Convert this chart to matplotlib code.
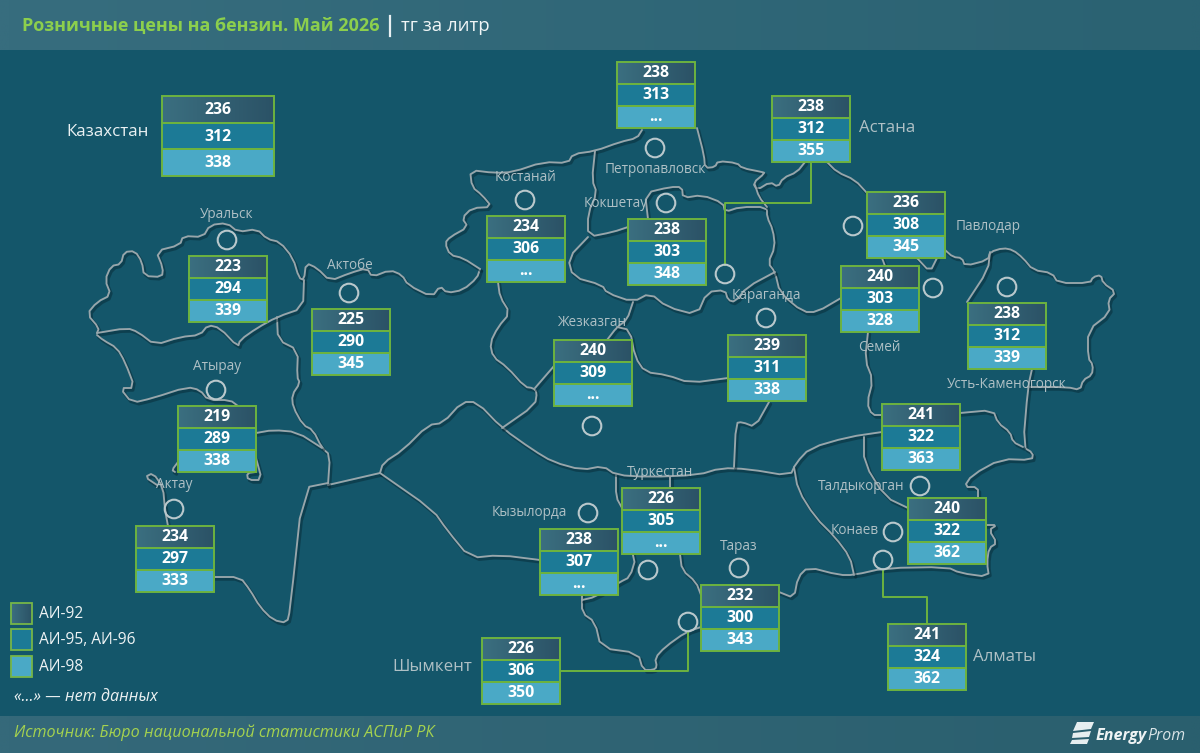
import numpy as np
import matplotlib
matplotlib.use("Agg")
import matplotlib.pyplot as plt
from matplotlib.patches import Rectangle, Circle, Polygon
import matplotlib.patheffects as pe

plt.rcParams['font.family'] = ['Open Sans', 'DejaVu Sans']

# ---------- data ----------
regions = ["Казахстан", "Уральск", "Актобе", "Атырау", "Актау", "Костанай", "Петропавловск",
           "Кокшетау", "Астана", "Павлодар", "Семей", "Усть-Каменогорск", "Караганда",
           "Жезказган", "Талдыкорган", "Конаев", "Туркестан", "Кызылорда", "Тараз",
           "Шымкент", "Алматы"]
ai92 = [236, 223, 225, 219, 234, 234, 238, 238, 238, 236, 240, 238, 239, 240, 241, 240, 226, 238, 232, 226, 241]
ai95 = [312, 294, 290, 289, 297, 306, 313, 303, 312, 308, 303, 312, 311, 309, 322, 322, 305, 307, 300, 306, 324]
ai98 = [338, 339, 345, 338, 333, None, None, 348, 355, 345, 328, 339, 338, None, 363, 362, None, None, 343, 350, 362]
legend_labels = ["АИ-92", "АИ-95, АИ-96", "АИ-98"]

# ---------- layout (pixels) ----------
box_xy = [(162, 96), (189, 256), (312, 309), (178, 406), (136, 526), (487, 216), (617, 62),
          (628, 219), (772, 96), (867, 192), (841, 266), (968, 303), (728, 335),
          (554, 340), (882, 404), (908, 498), (622, 488), (540, 529), (701, 585),
          (482, 638), (888, 624)]
label_xy = [(108, 132), (227, 214), (350, 265), (217, 366), (174, 484), (525, 177), (655, 169),
            (616, 203), (887, 128), (988, 226), (879, 347), (1007, 384), (766, 295),
            (592, 322), (861, 486), (855, 531), (660, 472), (529, 512), (739, 546),
            (432, 667), (1005, 657)]
circle_xy = [None, (227, 240), (349, 293), (216, 390), (174, 509), (525, 200), (655, 148),
             (666, 203), (725, 274), (853, 226), (933, 288), (1007, 287), (766, 318),
             (592, 426), (920, 486), (893, 532), (648, 570), (588, 513), (739, 568),
             (688, 622), (883, 560)]
large_labels = {"Астана", "Шымкент", "Алматы"}

connectors = [
    [(811, 162), (811, 203), (725, 203), (725, 265)],
    [(883, 570), (883, 597), (927, 597), (927, 624)],
    [(560, 671), (688, 671), (688, 632)],
]

# region borders
borders = [
    # north-west and north outer edge
    [(97, 333), (99, 328), (87, 314), (97, 302), (111, 295), (105, 280), (111, 266), (121, 264), (124, 252),
     (135, 251), (142, 262), (144, 276), (162, 277), (163, 268), (156, 251), (180, 245), (183, 236), (203, 237),
     (210, 225), (227, 223), (238, 232), (257, 229), (267, 239), (280, 242), (293, 258), (299, 278), (304, 280),
     (306, 263), (317, 268), (330, 281), (350, 273), (367, 268), (372, 277), (390, 270), (402, 275), (408, 285),
     (432, 297), (440, 286), (447, 293), (463, 290), (477, 278), (480, 269)],
    # Kostanay, north
    [(480, 269), (463, 258), (450, 255), (445, 243), (450, 237), (468, 227), (462, 218), (472, 208), (492, 207),
     (482, 195), (472, 187), (470, 170), (495, 173), (513, 172), (543, 162), (568, 163), (573, 154), (595, 151),
     (620, 142), (637, 138), (642, 130)],
    [(697, 128), (704, 155), (705, 168), (715, 167), (718, 161), (737, 163), (742, 168), (762, 172), (765, 173),
     (753, 183), (757, 190), (770, 182), (778, 187), (783, 178), (797, 172), (805, 162)],
    # north-east to east outer edge
    [(827, 162), (837, 172), (855, 180), (867, 193)],
    [(945, 250), (953, 257), (962, 258), (965, 266), (988, 260), (990, 252), (1003, 248), (1013, 250), (1023, 258),
     (1033, 270), (1052, 273), (1058, 283), (1090, 283), (1093, 277), (1101, 275), (1103, 283), (1116, 292),
     (1108, 300), (1110, 313), (1088, 330), (1088, 358), (1093, 365), (1092, 375), (1083, 380), (1080, 390),
     (1067, 387), (1028, 387)],
    [(1032, 369), (1028, 387), (1023, 447), (1033, 453), (1032, 460), (1001, 459), (972, 475), (964, 487),
     (978, 487), (978, 498)],
    [(986, 525), (997, 525), (989, 530), (997, 543), (989, 548), (987, 563), (989, 577), (960, 573), (947, 567),
     (885, 568), (854, 575), (839, 575), (808, 567), (798, 577), (794, 598), (779, 592)],
    [(960, 413), (993, 410), (998, 423), (1010, 432), (1013, 442), (1023, 447)],
    # south
    [(680, 554), (682, 570), (696, 582), (701, 595)],
    [(701, 627), (686, 632), (665, 647), (655, 658), (657, 667), (653, 670), (643, 670), (638, 653), (601, 648),
     (595, 622), (582, 613), (582, 595)],
    [(582, 600), (595, 597), (620, 582), (630, 577), (636, 557), (622, 540)],
    [(616, 475), (616, 497), (622, 508)],
    # central horizontal band
    [(380, 473), (383, 463), (403, 450), (428, 425), (443, 423), (462, 402), (477, 402), (502, 428), (533, 450),
     (553, 462), (582, 470), (603, 466), (616, 475), (649, 477), (698, 475), (721, 468), (748, 469), (790, 476),
     (796, 463), (810, 448), (848, 437), (882, 432)],
    [(502, 428), (535, 405), (537, 392), (533, 388), (525, 387), (507, 367), (493, 357), (490, 343), (498, 327),
     (510, 313), (500, 297), (498, 282)],
    [(535, 388), (554, 366)],
    [(734, 467), (736, 423), (742, 422), (755, 427), (769, 402)],
    # Aktobe west, south-west
    [(277, 317), (278, 340), (298, 350), (297, 377), (300, 383), (292, 395), (293, 407), (303, 425), (313, 430),
     (322, 448), (330, 455), (328, 485)],
    [(328, 485), (380, 473)],
    [(380, 473), (433, 510), (447, 530), (470, 558), (500, 555), (540, 560)],
    # Uralsk / Atyrau
    [(97, 333), (127, 328), (138, 332), (155, 345), (180, 337), (200, 335), (208, 325), (220, 328), (238, 347),
     (240, 340), (257, 328), (277, 317), (303, 308), (304, 280)],
    # Caspian
    [(97, 335), (103, 340), (117, 348), (125, 362), (135, 388), (120, 388), (132, 403), (153, 398), (187, 387),
     (200, 390), (208, 400), (230, 400), (238, 406)],
    [(256, 433), (273, 430), (297, 432), (322, 448)],
    [(178, 462), (172, 470), (175, 472)],
    [(256, 458), (262, 480), (248, 480), (247, 473), (256, 472)],
    [(157, 485), (145, 477), (153, 473), (163, 487), (165, 510), (168, 526)],
    [(214, 577), (240, 577), (250, 590), (260, 607), (273, 620), (287, 623), (290, 610), (303, 488), (328, 483)],
    # Akmola, Karaganda
    [(595, 151), (592, 180), (597, 193), (588, 213), (588, 237), (613, 232), (628, 227)],
    [(648, 219), (645, 193), (670, 187), (682, 187), (683, 198), (702, 195), (723, 203), (725, 212), (740, 207),
     (767, 207), (767, 217), (773, 230), (775, 247), (768, 263), (775, 272), (780, 293), (803, 312), (817, 312),
     (841, 298)],
    [(755, 185), (759, 197), (767, 207)],
    [(775, 272), (747, 287), (735, 302), (728, 300), (725, 290), (707, 292), (697, 315), (667, 307), (650, 293),
     (633, 302), (607, 293), (602, 285), (573, 277), (568, 258), (588, 237)],
    [(633, 302), (627, 320), (617, 327), (607, 340)],
    [(617, 327), (630, 330), (635, 357), (645, 372), (667, 375), (690, 383), (728, 378)],
    # Semey, Almaty region
    [(868, 332), (865, 360), (873, 380), (867, 403), (872, 415), (882, 415)],
    [(864, 437), (864, 463), (885, 497), (908, 508)],
    [(794, 467), (798, 490), (815, 517), (835, 537), (850, 557), (854, 575)],
    [(917, 258), (930, 272), (937, 258)],
    [(882, 258), (885, 266)],
    [(990, 252), (988, 270), (967, 302)],
    [(670, 477), (670, 488)],
]

logo_stripes = [
    [(1077, 722), (1094, 722), (1091, 729), (1073, 731)],
    [(1073, 733), (1091, 731), (1089, 737), (1072, 738)],
    [(1072, 740), (1089, 739), (1087, 744), (1070, 744)],
]

# ---------- colours ----------
BG = "#14566A"
GREEN = "#6DB33F"
C95 = "#1C7A96"
C98 = "#4AA9C6"
BORDER = "#98A6AB"
LABEL = "#AFC0C5"

W, H = 1200, 753
fig = plt.figure(figsize=(12, 7.53), dpi=100, facecolor=BG)
ax = fig.add_axes([0, 0, 1, 1])
ax.set_xlim(0, W)
ax.set_ylim(H, 0)
ax.axis("off")


def hgrad(x0, y0, x1, y1, c0, c1, z):
    a = np.array(matplotlib.colors.to_rgb(c0))
    b = np.array(matplotlib.colors.to_rgb(c1))
    t = np.linspace(0, 1, 64)[None, :, None]
    img = a[None, None, :] * (1 - t) + b[None, None, :] * t
    ax.imshow(img, extent=(x0, x1, y1, y0), aspect="auto", zorder=z, interpolation="bilinear")


def chaikin(seg, n=1):
    """Corner-cutting so the traced borders look less angular, endpoints kept."""
    p = np.asarray(seg, dtype=float)
    for _ in range(n):
        if len(p) < 3:
            break
        q = 0.75 * p[:-1] + 0.25 * p[1:]
        r = 0.25 * p[:-1] + 0.75 * p[1:]
        mid = np.empty((2 * len(q), 2))
        mid[0::2] = q
        mid[1::2] = r
        p = np.vstack([p[0], mid, p[-1]])
    return p


# header / footer
hgrad(0, 0, W, 50, "#376D7E", "#2A6272", 1)
hgrad(0, 716, W, H, "#35697A", "#2A5F6E", 1)
ax.set_xlim(0, W)
ax.set_ylim(H, 0)

ax.text(22, 26, "Розничные цены на бензин. Май 2026", color="#8CCF4D", fontsize=12.95,
        fontweight="bold", va="center", ha="left", zorder=5)
ax.plot([389.5, 389.5], [16, 36], color="#E8F0F2", lw=1.6, zorder=5)
ax.text(401, 26, "тг за литр", color="#F0F5F6", fontsize=13.4, va="center", ha="left", zorder=5)

# map
shadow = [pe.SimpleLineShadow(offset=(1.2, -1.6), shadow_color="#052530", alpha=0.45, linewidth=2.2),
          pe.Normal()]
for seg in borders:
    p = chaikin(seg)
    ax.plot(p[:, 0], p[:, 1], color=BORDER, lw=1.35, solid_joinstyle="round", solid_capstyle="round",
            zorder=2, path_effects=shadow)

# connectors
for seg in connectors:
    xs, ys = zip(*seg)
    ax.plot(xs, ys, color=GREEN, lw=1.4, zorder=3)

# circles
for c in circle_xy:
    if c is not None:
        ax.add_patch(Circle(c, 9.3, fc="none", ec="#B9C8CC", lw=1.5, zorder=4))

# labels
for name, (lx, ly) in zip(regions, label_xy):
    if name == "Казахстан":
        ax.text(lx, ly, name, color="#EAF1F3", fontsize=12.2, ha="center", va="center", zorder=5)
    elif name in large_labels:
        ax.text(lx, ly, name, color=LABEL, fontsize=12.2, ha="center", va="center", zorder=5)
    else:
        ax.text(lx, ly, name, color=LABEL, fontsize=9.8, ha="center", va="center", zorder=5)


def fmt(v):
    return "..." if v is None else str(v)


# price boxes
for i, name in enumerate(regions):
    x0, y0 = box_xy[i]
    big = name == "Казахстан"
    w = 112 if big else 78
    rh = 80 / 3 if big else 22
    vals = (ai92[i], ai95[i], ai98[i])
    hgrad(x0, y0, x0 + w, y0 + rh, "#3B6F80", "#2B5266", 6)
    ax.add_patch(Rectangle((x0, y0 + rh), w, rh, fc=C95, ec="none", zorder=6))
    ax.add_patch(Rectangle((x0, y0 + 2 * rh), w, rh, fc=C98, ec="none", zorder=6))
    for k in range(3):
        ax.add_patch(Rectangle((x0, y0 + k * rh), w, rh, fc="none", ec=GREEN, lw=1.4, zorder=7))
        ax.text(x0 + w / 2, y0 + (k + 0.52) * rh, fmt(vals[k]), color="white", fontsize=11.4,
                fontweight="bold", ha="center", va="center", zorder=8)
ax.set_xlim(0, W)
ax.set_ylim(H, 0)

# legend
leg_fill = [None, C95, C98]
for k, lab in enumerate(legend_labels):
    y = 603 + k * 26.3
    if k == 0:
        hgrad(11, y, 32, y + 21, "#3B6F80", "#2B5266", 6)
    else:
        ax.add_patch(Rectangle((11, y), 21, 21, fc=leg_fill[k], ec="none", zorder=6))
    ax.add_patch(Rectangle((11, y), 21, 21, fc="none", ec="#76B648", lw=1.3, zorder=7))
    ax.text(39, y + 11, lab, color="#EEF3F4", fontsize=11.2, ha="left", va="center", zorder=8)
ax.text(14, 697, "«...» — нет данных", color="#EEF3F4", fontsize=11.6, style="italic",
        ha="left", va="center", zorder=8)
ax.set_xlim(0, W)
ax.set_ylim(H, 0)

# footer
ax.text(14, 733, "Источник: Бюро национальной статистики АСПиР РК", color="#A5D24F", fontsize=11.6,
        style="italic", ha="left", va="center", zorder=5)
for st in logo_stripes:
    ax.add_patch(Polygon(st, closed=True, fc="#E6EEF0", ec="none", zorder=5))
ax.text(1096, 736, "Energy", color="#EEF3F4", fontsize=11.6, fontweight="bold", style="italic",
        ha="left", va="center", zorder=5)
ax.text(1147, 736, "Prom", color="#D8E3E6", fontsize=11.4, style="italic",
        ha="left", va="center", zorder=5)

fig.savefig("out.png", dpi=100, facecolor=BG)
